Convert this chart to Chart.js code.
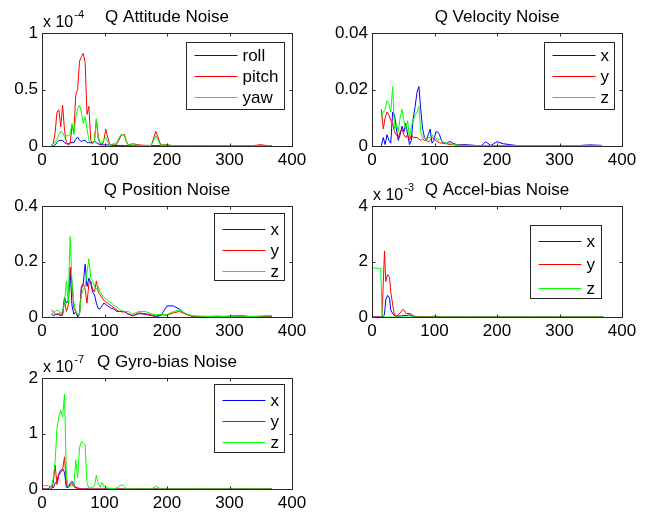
<!DOCTYPE html>
<html>
<head>
<meta charset="utf-8">
<script src="https://cdn.jsdelivr.net/npm/chart.js@4.4.0/dist/chart.umd.min.js"></script>
<style>
  body { margin: 0; background: #fff; }
  #fig { position: relative; width: 645px; height: 512px; overflow: hidden; }
  #fig canvas { position: absolute; }
</style>
</head>
<body>
<div id="fig">
  <canvas id="cAtt"></canvas>
  <canvas id="cVel"></canvas>
  <canvas id="cPos"></canvas>
  <canvas id="cAcc"></canvas>
  <canvas id="cGyro"></canvas>
</div>
<script>
// time base shared by the filter logs
var tMain = [15, 18, 21, 24, 27, 30, 33, 36, 39, 42, 45, 48, 51, 54,
             57, 60, 63, 66, 69, 72, 75, 78, 81, 84, 87, 90, 93, 96,
             99, 102, 105, 108, 111, 114, 117, 120, 123, 126, 129, 132, 135, 138,
             145, 155, 165, 175, 182, 190, 200, 210, 220, 230, 240, 250,
             260, 270, 280, 290, 300, 310, 320, 330, 340, 350, 360, 368];
var tAccel = [0, 1, 14, 16, 18, 20, 22, 25, 28, 30, 33, 36, 40, 45, 50,
              55, 59, 63, 67, 72, 80, 90, 100, 110, 150, 200, 250, 300, 370];
var tGyro = [0, 5, 10].concat(tMain);

var xTicks = [0, 100, 200, 300, 400];
var attLabels = ['roll', 'pitch', 'yaw'];
var xyzLabels = ['x', 'y', 'z'];

// Q attitude noise (x 1e-4)
var attRoll = [0, 0, 0.01, 0.03, 0.05, 0.05, 0.05, 0.03, 0.02, 0.02, 0.03, 0.03, 0.03, 0.06,
               0.08, 0.05, 0.04, 0.05, 0.05, 0.03, 0.03, 0.03, 0.03, 0.04, 0.03, 0.02, 0.01, 0.01,
               0.01, 0.01, 0.01, 0.01, 0.005, 0.005, 0.005, 0.005, 0.005, 0.005, 0.005, 0.004, 0.003, 0.003,
               0.003, 0.002, 0.002, 0.002, 0.004, 0.002, 0.002, 0.001, 0.001, 0.001, 0.001, 0.001,
               0.001, 0.001, 0.001, 0.001, 0.001, 0.001, 0.001, 0.001, 0.001, 0.001, 0.001, 0.001];
var attPitch = [0.01, 0.02, 0.12, 0.30, 0.32, 0.17, 0.36, 0.14, 0.03, 0.01, 0.02, 0.18, 0.12, 0.45,
                0.50, 0.75, 0.79, 0.82, 0.74, 0.28, 0.35, 0.05, 0.02, 0.05, 0.24, 0.08, 0.02, 0.01,
                0.05, 0.15, 0.08, 0.02, 0.01, 0.01, 0.01, 0.02, 0.05, 0.09, 0.10, 0.10, 0.04, 0.01,
                0.02, 0.01, 0.005, 0.005, 0.13, 0.01, 0.01, 0.003, 0.003, 0.002, 0.002, 0.003,
                0.002, 0.002, 0.002, 0.002, 0.002, 0.002, 0.002, 0.003, 0.005, 0.012, 0.003, 0.002];
var attYaw = [0, 0.02, 0.03, 0.06, 0.10, 0.13, 0.12, 0.08, 0.09, 0.09, 0.10, 0.20, 0.10, 0.25,
              0.33, 0.36, 0.30, 0.20, 0.26, 0.15, 0.05, 0.02, 0.02, 0.04, 0.24, 0.05, 0.03, 0.02,
              0.06, 0.08, 0.03, 0.01, 0.01, 0.02, 0.02, 0.04, 0.07, 0.10, 0.10, 0.09, 0.03, 0.01,
              0.01, 0.005, 0.005, 0.005, 0.09, 0.005, 0.01, 0.003, 0.002, 0.002, 0.002, 0.002,
              0.002, 0.002, 0.002, 0.002, 0.002, 0.002, 0.002, 0.002, 0.003, 0.004, 0.002, 0.002];

// Q velocity noise
var velX = [0, 0.003, 0.0005, 0.004, 0.002, 0.001, 0.012, 0.011, 0.006, 0.002, 0.004, 0.007, 0.005, 0.008,
            0.004, 0.0005, 0.002, 0.010, 0.014, 0.019, 0.021, 0.013, 0.006, 0.003, 0.002, 0.004, 0.006, 0.001,
            0.002, 0.005, 0.005, 0.004, 0.002, 0.001, 0.001, 0.001, 0.0015, 0.0015, 0.001, 0.0008, 0.0005, 0.0004,
            0.0005, 0.0004, 0.0002, 0.0001, 0.0015, 0.0002, 0.0015, 0.0008, 0.0005, 0.0002, 0.0001, 0.0001,
            0.0001, 0.0001, 0.0001, 0.0001, 0.0002, 0.0001, 0.0001, 0.0001, 0.0003, 0.0004, 0.0003, 0.0002];
var velY = [0.013, 0.006, 0.010, 0.012, 0.011, 0.009, 0.008, 0.005, 0.004, 0.003, 0.005, 0.006, 0.004, 0.003,
            0.004, 0.002, 0.004, 0.003, 0.003, 0.003, 0.0025, 0.002, 0.0025, 0.002, 0.002, 0.0015, 0.002, 0.003,
            0.0025, 0.002, 0.0015, 0.0012, 0.001, 0.001, 0.0008, 0.0008, 0.0006, 0.0005, 0.0005, 0.0004, 0.0003, 0.0003,
            0.0002, 0.0002, 0.0001, 0.0001, 0.0002, 0.0001, 0.0001, 0.0001, 0.0001, 0.0001, 0.0001, 0.0001,
            0.0001, 0.0001, 0.0001, 0.0001, 0.0001, 0.0001, 0.0001, 0.0001, 0.0001, 0.0002, 0.0001, 0.0001];
var velZ = [0.010, 0.012, 0.013, 0.016, 0.015, 0.012, 0.021, 0.006, 0.008, 0.005, 0.010, 0.013, 0.009, 0.006,
            0.009, 0.003, 0.007, 0.009, 0.011, 0.012, 0.014, 0.005, 0.003, 0.003, 0.002, 0.003, 0.003, 0.004,
            0.003, 0.003, 0.002, 0.0025, 0.002, 0.0015, 0.001, 0.001, 0.001, 0.0008, 0.0006, 0.0005, 0.0004, 0.0003,
            0.0002, 0.0002, 0.0001, 0.0001, 0.0002, 0.0001, 0.0001, 0.0001, 0.0001, 0.0001, 0.0001, 0.0001,
            0.0001, 0.0001, 0.0001, 0.0001, 0.0001, 0.0001, 0.0001, 0.0001, 0.0001, 0.0002, 0.0002, 0.0001];

// Q position noise
var posX = [0.01, 0.005, 0.008, 0.01, 0.008, 0.005, 0.015, 0.07, 0.05, 0.06, 0.17, 0.04, 0.01, 0.02,
            0.0, 0.01, 0.11, 0.12, 0.19, 0.11, 0.14, 0.12, 0.09, 0.08, 0.05, 0.03, 0.03, 0.04,
            0.05, 0.045, 0.04, 0.035, 0.03, 0.03, 0.025, 0.02, 0.02, 0.02, 0.02, 0.02, 0.015, 0.01,
            0.005, 0.012, 0.01, 0.005, 0.002, 0.005, 0.04, 0.04, 0.028, 0.01, 0.003, 0.002,
            0.002, 0.002, 0.002, 0.002, 0.002, 0.003, 0.004, 0.002, 0.002, 0.002, 0.003, 0.003];
var posY = [0.025, 0.02, 0.01, 0.01, 0.012, 0.01, 0.005, 0.06, 0.02, 0.04, 0.18, 0.12, 0.03, 0.02,
            0.005, 0.01, 0.10, 0.12, 0.10, 0.05, 0.12, 0.13, 0.10, 0.09, 0.13, 0.09, 0.08, 0.07,
            0.06, 0.055, 0.05, 0.045, 0.04, 0.035, 0.03, 0.025, 0.02, 0.02, 0.018, 0.018, 0.015, 0.012,
            0.004, 0.015, 0.012, 0.008, 0.003, 0.008, 0.006, 0.015, 0.02, 0.01, 0.003, 0.002,
            0.002, 0.002, 0.003, 0.002, 0.003, 0.004, 0.003, 0.002, 0.002, 0.002, 0.003, 0.002];
var posZ = [0.01, 0.015, 0.02, 0.025, 0.02, 0.015, 0.02, 0.05, 0.13, 0.05, 0.29, 0.13, 0.05, 0.02,
            0.01, 0.01, 0.08, 0.10, 0.11, 0.16, 0.21, 0.14, 0.13, 0.11, 0.10, 0.11, 0.09, 0.08,
            0.07, 0.065, 0.06, 0.055, 0.05, 0.045, 0.04, 0.035, 0.03, 0.025, 0.022, 0.02, 0.02, 0.02,
            0.01, 0.02, 0.02, 0.012, 0.008, 0.01, 0.008, 0.02, 0.025, 0.012, 0.004, 0.003,
            0.002, 0.002, 0.002, 0.002, 0.002, 0.003, 0.003, 0.002, 0.002, 0.003, 0.004, 0.004];

// Q accel-bias noise (x 1e-3)
var accX = [0, 0, 0, 0, 0, 0.1, 0.62, 0.78, 0.68, 0.25, 0.13, 0.05, 0.04, 0.03, 0.05,
            0.05, 0.08, 0.05, 0.02, 0.01, 0.02, 0, 0, 0, 0, 0, 0, 0, 0];
var accY = [0, 0, 0, 0, 1.2, 2.38, 1.28, 1.53, 1.43, 0.92, 0.44, 0.05, 0.02, 0.15, 0.28,
            0.12, 0.13, 0.10, 0.03, 0.01, 0.01, 0.01, 0.03, 0, 0, 0, 0, 0, 0];
var accZ = [0, 1.77, 1.75, 0.2, 0, 0, 0, 0, 0, 0, 0, 0, 0, 0, 0,
            0, 0, 0, 0, 0, 0, 0, 0, 0, 0, 0, 0, 0, 0];

// Q gyro-bias noise (x 1e-7)
var gyroX = [0, 0, 0,
             0.06, 0.02, 0.10, 0.15, 0.28, 0.34, 0.36, 0.30, 0.03, 0.03, 0.10, 0.14, 0.08, 0.03,
             0.02, 0.01, 0, 0, 0, 0, 0, 0, 0, 0, 0, 0, 0, 0,
             0, 0, 0, 0, 0, 0, 0, 0, 0, 0, 0, 0, 0, 0,
             0, 0, 0, 0, 0, 0, 0, 0, 0, 0, 0, 0,
             0, 0, 0, 0, 0, 0, 0, 0, 0, 0, 0, 0];
var gyroY = [0, 0, 0,
             0, 0.10, 0.43, 0.08, 0.25, 0.30, 0.35, 0.58, 0.08, 0.02, 0.07, 0.10, 0.04, 0.02,
             0.01, 0.01, 0, 0, 0, 0, 0, 0, 0, 0, 0, 0, 0, 0,
             0, 0, 0, 0, 0, 0, 0, 0, 0, 0, 0, 0, 0, 0,
             0, 0, 0, 0, 0, 0, 0, 0, 0, 0, 0, 0,
             0, 0, 0, 0, 0, 0, 0, 0, 0, 0, 0, 0];
var gyroZ = [0.06, 0.06, 0.06,
             0.03, 0.20, 0.50, 1.10, 1.30, 1.42, 1.30, 1.71, 0.25, 0.03, 0.05, 0.06, 0.05, 0.52,
             0.20, 0.75, 0.85, 0.83, 0.80, 0.10, 0.02, 0.02, 0.03, 0.05, 0.25, 0.10, 0.03, 0.12,
             0.05, 0.06, 0.02, 0.01, 0.01, 0.01, 0.01, 0.02, 0.04, 0.07, 0.07, 0.05, 0.01, 0,
             0, 0, 0, 0, 0.05, 0, 0, 0, 0, 0, 0, 0,
             0, 0, 0, 0, 0, 0, 0, 0, 0, 0, 0, 0];

var seriesColors = ['#0000ff', '#ff0000', '#00ff00'];
var axisColor = '#262626';
var FONT = '"Liberation Sans", Arial, Helvetica, sans-serif';
var YAXIS_W = 50;

Chart.defaults.font.family = FONT;
Chart.defaults.font.size = 17;
Chart.defaults.color = '#000';

// matlab-like box, inward ticks, title, exponent and legend
var matlabAxes = {
    id: 'matlabAxes',
    afterDraw: function(chart, args, opts) {
        var ctx = chart.ctx;
        var a = chart.chartArea;
        var xs = chart.scales.x, ys = chart.scales.y;
        var L = Math.round(a.left) + 0.5, R = Math.round(a.right) + 0.5;
        var T = Math.round(a.top) + 0.5, B = Math.round(a.bottom) + 0.5;
        var tl = 3;
        ctx.save();
        ctx.strokeStyle = axisColor;
        ctx.lineWidth = 1;
        ctx.strokeRect(L, T, R - L, B - T);
        ctx.beginPath();
        xs.ticks.forEach(function(tk) {
            var px = Math.round(xs.getPixelForValue(tk.value)) + 0.5;
            ctx.moveTo(px, B); ctx.lineTo(px, B - tl);
            ctx.moveTo(px, T); ctx.lineTo(px, T + tl);
        });
        ys.ticks.forEach(function(tk) {
            var py = Math.round(ys.getPixelForValue(tk.value)) + 0.5;
            ctx.moveTo(L, py); ctx.lineTo(L + tl, py);
            ctx.moveTo(R, py); ctx.lineTo(R - tl, py);
        });
        ctx.stroke();

        // title
        ctx.fillStyle = '#000';
        ctx.font = '17px ' + FONT;
        ctx.textAlign = 'center';
        ctx.textBaseline = 'alphabetic';
        ctx.fillText(opts.title, (a.left + a.right) / 2, a.top - 11);

        // axis exponent
        if (opts.exponent) {
            ctx.textAlign = 'left';
            ctx.font = '16px ' + FONT;
            ctx.fillText('x 10', a.left + 1, a.top - 6);
            var w = ctx.measureText('x 10').width;
            ctx.font = '11px ' + FONT;
            ctx.fillText(opts.exponent, a.left + 2 + w, a.top - 15);
        }

        // legend
        var lg = opts.legend;
        var bx = Math.round(a.left + lg.x) + 0.5, by = Math.round(a.top + lg.y) + 0.5;
        ctx.fillStyle = '#fff';
        ctx.fillRect(bx, by, lg.w, lg.h);
        ctx.strokeStyle = axisColor;
        ctx.strokeRect(bx, by, lg.w, lg.h);
        ctx.font = '17px ' + FONT;
        ctx.textAlign = 'left';
        ctx.textBaseline = 'middle';
        chart.data.datasets.forEach(function(ds, k) {
            var ry = Math.round(by + lg.first + k * lg.gap) + 0.5;
            ctx.strokeStyle = ds.borderColor;
            ctx.beginPath();
            ctx.moveTo(bx + 8, ry);
            ctx.lineTo(bx + 51, ry);
            ctx.stroke();
            ctx.fillStyle = '#000';
            ctx.fillText(ds.label, bx + 56, ry + 1);
        });
        ctx.restore();
    }
};

function makeChart(id, area, t, series, labels, yMax, yStep, extra) {
    var cv = document.getElementById(id);
    cv.width = area.w + YAXIS_W + 25;
    cv.height = area.h + 58;
    cv.style.left = (area.x - YAXIS_W) + 'px';
    cv.style.top = (area.y - 33) + 'px';

    var datasets = series.map(function(ys, k) {
        return {
            label: labels[k],
            data: t.map(function(x, i) { return { x: x, y: ys[i] }; }),
            borderColor: seriesColors[k],
            borderWidth: 1,
            pointRadius: 0,
            tension: 0,
            fill: false,
            order: 2 - k
        };
    });

    return new Chart(cv, {
        type: 'line',
        data: { datasets: datasets },
        options: {
            responsive: false,
            animation: false,
            layout: { autoPadding: false, padding: { top: 33, right: 25, left: 0, bottom: 0 } },
            plugins: {
                legend: { display: false },
                tooltip: { enabled: false },
                matlabAxes: extra
            },
            scales: {
                x: {
                    type: 'linear',
                    min: 0,
                    max: 400,
                    afterBuildTicks: function(scale) {
                        scale.ticks = xTicks.map(function(v) { return { value: v }; });
                    },
                    ticks: { padding: 4, maxRotation: 0 },
                    grid: { display: false, drawTicks: false },
                    border: { display: false },
                    afterFit: function(scale) {
                        scale.height = 25;
                        scale.paddingLeft = 0;
                        scale.paddingRight = 0;
                    }
                },
                y: {
                    min: 0,
                    max: yMax,
                    ticks: {
                        stepSize: yStep,
                        padding: 4,
                        callback: function(v) { return String(+v.toFixed(4)); }
                    },
                    grid: { display: false, drawTicks: false },
                    border: { display: false },
                    afterFit: function(scale) {
                        scale.width = YAXIS_W;
                        scale.paddingTop = 0;
                        scale.paddingBottom = 0;
                    }
                }
            }
        },
        plugins: [matlabAxes]
    });
}

makeChart('cAtt', { x: 42, y: 33, w: 250, h: 113 }, tMain, [attRoll, attPitch, attYaw], attLabels, 1, 0.5,
    { title: 'Q Attitude Noise', exponent: '-4', legend: { x: 144, y: 9, w: 98, h: 67, first: 12, gap: 21 } });
makeChart('cVel', { x: 372, y: 33, w: 250, h: 113 }, tMain, [velX, velY, velZ], xyzLabels, 0.04, 0.02,
    { title: 'Q Velocity Noise', legend: { x: 172, y: 9, w: 70, h: 67, first: 12, gap: 21 } });
makeChart('cPos', { x: 42, y: 206, w: 250, h: 111 }, tMain, [posX, posY, posZ], xyzLabels, 0.4, 0.2,
    { title: 'Q Position Noise', legend: { x: 172, y: 7, w: 70, h: 67, first: 15, gap: 21 } });
makeChart('cAcc', { x: 372, y: 206, w: 250, h: 111 }, tAccel, [accX, accY, accZ], xyzLabels, 4, 2,
    { title: 'Q Accel-bias Noise', exponent: '-3', legend: { x: 158, y: 19, w: 71, h: 73, first: 15, gap: 23.5 } });
makeChart('cGyro', { x: 42, y: 378, w: 250, h: 111 }, tGyro, [gyroX, gyroY, gyroZ], xyzLabels, 2, 1,
    { title: 'Q Gyro-bias Noise', exponent: '-7', legend: { x: 172, y: 6, w: 70, h: 68, first: 15, gap: 21 } });
</script>
</body>
</html>
